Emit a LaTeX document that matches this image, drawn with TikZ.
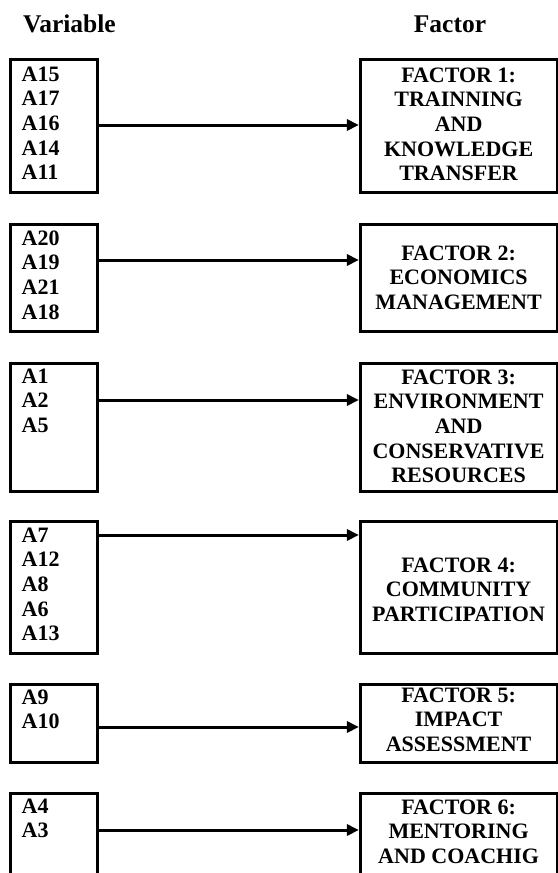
\documentclass[tikz,border=0pt]{standalone}
\usepackage{fontspec}
\setmainfont{Liberation Serif}
\usetikzlibrary{arrows.meta}
\begin{document}
\begin{tikzpicture}[x=1bp,y=-1bp,
  box/.style={draw, line width=2.7bp, inner sep=0pt},
  lbox/.style={box, minimum width=87bp},
  rbox/.style={box, minimum width=196.7bp},
  vtxt/.style={anchor=base west, align=left, inner sep=0pt, font=\fontsize{22bp}{24.7bp}\selectfont\bfseries},
  ftxt/.style={anchor=base, align=center, inner sep=0pt, font=\fontsize{22bp}{24.7bp}\selectfont\bfseries},
  hdr/.style={anchor=base, inner sep=0pt, font=\fontsize{25.5bp}{30bp}\selectfont\bfseries},
  arr/.style={line width=3bp, -{Triangle[length=12bp,width=11bp]}}]
\useasboundingbox (0,0) rectangle (558,873);
\clip (0,0) rectangle (558,873);

% headers
\node[hdr, anchor=base west] (hv) at (23,32) {Variable};
\node[hdr] (hf) at (450,32) {Factor};

% boxes
\node[lbox, minimum height=133.4bp] (l1) at (54.2,126) {};
\node[rbox, minimum height=133.4bp] (r1) at (458.6,126) {};
\node[lbox, minimum height=107.4bp] (l2) at (54.2,278) {};
\node[rbox, minimum height=107.4bp] (r2) at (458.6,278) {};
\node[lbox, minimum height=128.4bp] (l3) at (54.2,427.5) {};
\node[rbox, minimum height=128.4bp] (r3) at (458.6,427.5) {};
\node[lbox, minimum height=132.4bp] (l4) at (54.2,587.5) {};
\node[rbox, minimum height=132.4bp] (r4) at (458.6,587.5) {};
\node[lbox, minimum height=78.4bp] (l5) at (54.2,723.5) {};
\node[rbox, minimum height=78.4bp] (r5) at (458.6,723.5) {};
\node[lbox, minimum height=96.7bp] (l6) at (54.2,841.65) {};
\node[rbox, minimum height=96.7bp] (r6) at (458.6,841.65) {};

% variable lists (anchored at the baseline of the last line)
\node[vtxt] (v1) at (21.5,179.8) {A15\\A17\\A16\\A14\\A11};
\node[vtxt] (v2) at (21.5,319.1) {A20\\A19\\A21\\A18};
\node[vtxt] (v3) at (21.5,432.4) {A1\\A2\\A5};
\node[vtxt] (v4) at (21.5,640.8) {A7\\A12\\A8\\A6\\A13};
\node[vtxt] (v5) at (21.5,728.7) {A9\\A10};
\node[vtxt] (v6) at (21.5,837.7) {A4\\A3};

% factor texts (anchored at the baseline of the last line)
\node[ftxt] (f1) at (458.6,180.8) {FACTOR 1:\\TRAINNING\\AND\\KNOWLEDGE\\TRANSFER};
\node[ftxt] (f2) at (458.6,309.4) {FACTOR 2:\\ECONOMICS\\MANAGEMENT};
\node[ftxt] (f3) at (458.6,482.8) {FACTOR 3:\\ENVIRONMENT\\AND\\CONSERVATIVE\\RESOURCES};
\node[ftxt] (f4) at (458.6,621.4) {FACTOR 4:\\COMMUNITY\\PARTICIPATION};
\node[ftxt] (f5) at (458.6,751.4) {FACTOR 5:\\IMPACT\\ASSESSMENT};
\node[ftxt] (f6) at (458.6,863.4) {FACTOR 6:\\MENTORING\\AND COACHIG};

% arrows
\draw[arr] ([yshift=1bp]l1.east) -- ([yshift=1bp]r1.west);
\draw[arr] ([yshift=18bp]l2.east) -- ([yshift=18bp]r2.west);
\draw[arr] ([yshift=27.5bp]l3.east) -- ([yshift=27.5bp]r3.west);
\draw[arr] ([yshift=52.5bp]l4.east) -- ([yshift=52.5bp]r4.west);
\draw[arr] ([yshift=-3.5bp]l5.east) -- ([yshift=-3.5bp]r5.west);
\draw[arr] ([yshift=11.65bp]l6.east) -- ([yshift=11.65bp]r6.west);
\end{tikzpicture}
\end{document}
